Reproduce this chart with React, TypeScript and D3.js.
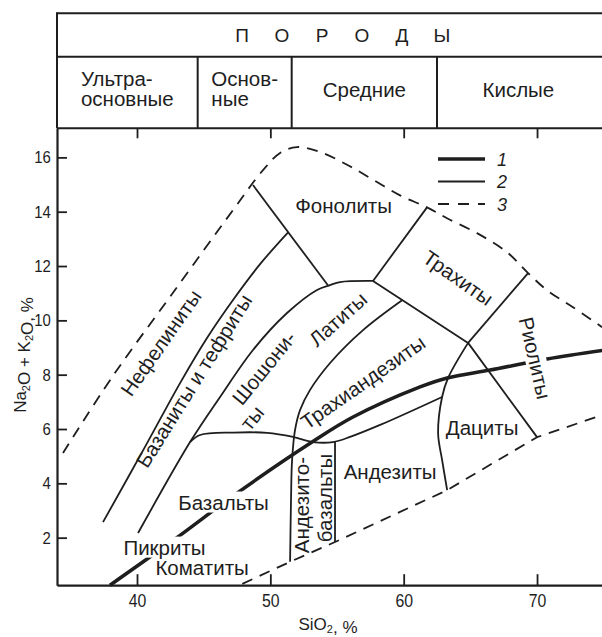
import React, { useEffect, useRef } from "react";
import * as d3 from "d3";

type Pt = [number, number];

// axes
const xTicks = [40, 50, 60, 70];
const yTicks = [2, 4, 6, 8, 10, 12, 14, 16];

// header table
const titleLetters = ["П", "О", "Р", "О", "Д", "Ы"];
const groupNames = [["Ультра-", "основные"], ["Основ-", "ные"], ["Средние"], ["Кислые"]];
const groupBounds = [34, 44.55, 51.6, 62.5, 74.7]; // SiO2, %

// [SiO2, Na2O+K2O]
// 1 - alkaline / subalkaline divide
const alkaliLine: Pt[] = [
  [37.97, 0.25], [42.85, 1.95], [47.5, 3.64], [53.13, 5.52], [56.2, 6.44],
  [61.23, 7.55], [63.26, 7.88], [66.48, 8.17], [70.76, 8.58], [75, 8.9],
];

// 2 - field boundaries
const nephLine: Pt[] = [
  [37.45, 2.57], [40.6, 5.34], [43.23, 7.69], [45.25, 9.35], [47.2, 10.75],
  [49.23, 12.07], [51.33, 13.24],
];
const basaniteLine: Pt[] = [
  [40.08, 2.17], [43.98, 5.52], [46.23, 7.18], [48.7, 8.91], [51.25, 10.27],
  [53.5, 11.12], [54.48, 11.3], [55.23, 11.41], [57.7, 11.45],
];
const phonoLeft: Pt[] = [[48.7, 14.98], [54.33, 11.28]];
const phonoRight: Pt[] = [[57.7, 11.45], [61.75, 14.16]];
const trachyteBase: Pt[] = [[57.7, 11.45], [64.83, 9.17], [70.0, 5.7]];
const rhyoliteLine: Pt[] = [[64.83, 9.17], [69.33, 11.74]];
const latiteLine: Pt[] = [
  [59.88, 10.74], [56.95, 9.64], [54.48, 8.43], [52.98, 7.44], [52.23, 6.7],
  [51.85, 5.96], [51.63, 4.86], [51.55, 3.39], [51.48, 1.11],
];
const basaltTop: Pt[] = [
  [43.98, 5.52], [44.73, 5.78], [47.2, 5.87], [49.75, 5.86], [51.7, 5.71],
  [53.2, 5.52], [54.7, 5.52], [55.98, 5.71], [58.23, 6.15], [62.88, 7.18],
];
const daciteLine: Pt[] = [
  [64.83, 9.17], [63.33, 7.88], [62.88, 7.18], [62.58, 5.85], [62.88, 4.86], [63.26, 3.75],
];
const andesiteLine: Pt[] = [[54.85, 5.52], [54.85, 1.84]];

// 3 - limits of the field
const upperLimit: Pt[] = [
  [34.45, 5.12], [38.13, 7.91], [42.63, 10.97], [47.2, 14.06], [49.45, 15.53],
  [50.73, 16.16], [52.0, 16.38], [53.73, 16.2], [55.75, 15.73], [57.7, 15.18],
  [59.73, 14.6], [61.75, 14.16], [63.25, 13.76], [65.5, 13.21], [67.75, 12.51],
  [69.33, 11.74], [70.75, 11.11], [72.7, 10.48], [74.88, 9.75],
];
const lowerLimit: Pt[] = [
  [47.9, 0.3], [51.48, 1.11], [54.85, 1.84], [63.26, 3.75], [70.0, 5.7], [74.5, 6.45],
];

const fieldLabels = [
  { text: "Нефелиниты", at: [41.8, 9.17], rot: -55 },
  { text: "Базаниты и тефриты", at: [44.28, 7.77], rot: -58 },
  { text: "Шошони-", at: [49.53, 8.25], rot: -51 },
  { text: "ты", at: [48.63, 6.41], rot: -51 },
  { text: "Латиты", at: [55.08, 10.04], rot: -42 },
  { text: "Трахиандезиты", at: [56.95, 7.72], rot: -35 },
  { text: "Трахиты", at: [64.08, 11.56], rot: 35 },
  { text: "Риолиты", at: [69.85, 8.61], rot: 77, knock: true },
  { text: "Фонолиты", at: [55.49, 14.23], rot: 0 },
  { text: "Дациты", at: [65.88, 6.06], rot: 0 },
  { text: "Андезиты", at: [58.98, 4.44], rot: 0 },
  { text: "Андезито-", at: [52.38, 3.2], rot: -90 },
  { text: "базальты", at: [54.1, 3.46], rot: -90 },
  { text: "Базальты", at: [46.49, 3.3], rot: 0, knock: true },
  { text: "Пикриты", at: [42.06, 1.64], rot: 0, knock: true },
  { text: "Коматиты", at: [44.88, 0.9], rot: 0 },
];

const legendItems = ["1", "2", "3"];

const INK = "#1e1e1e";
const FONT = "'Liberation Sans', Arial, sans-serif";

export default function App() {
  const ref = useRef<SVGSVGElement | null>(null);

  useEffect(() => {
    if (!ref.current) return;
    const svg = d3.select(ref.current);
    svg.selectAll("*").remove();

    const x = d3.scaleLinear().domain([34, 75]).range([57, 603.7]);
    const y = d3.scaleLinear().domain([0.25, 17.07]).range([585.2, 128.3]);

    const tTop = 13.3;
    const tRow = 56.7;
    const tBot = y(17.07);
    const left = x(34);
    const right = 602;

    // ---- header table
    const table = svg.append("g").attr("stroke", INK).attr("stroke-width", 2);
    [tTop, tRow, tBot].forEach((ty) =>
      table.append("line").attr("x1", left).attr("x2", right).attr("y1", ty).attr("y2", ty)
    );
    table.append("line").attr("x1", left).attr("x2", left).attr("y1", tTop - 1).attr("y2", tBot);
    groupBounds.slice(1, -1).forEach((b) =>
      table.append("line").attr("x1", x(b)).attr("x2", x(b)).attr("y1", tRow).attr("y2", tBot)
    );

    const titleG = svg.append("g").attr("font-family", FONT).attr("font-size", 19).attr("fill", INK)
      .attr("text-anchor", "middle");
    titleLetters.forEach((ch, i) => {
      titleG.append("text").attr("x", 342 + (i - 2.5) * 40).attr("y", 41.5).text(ch);
    });

    const grpG = svg.append("g").attr("font-family", FONT).attr("font-size", 20.5).attr("fill", INK);
    groupNames.forEach((lines, i) => {
      const cx = (x(groupBounds[i]) + x(groupBounds[i + 1])) / 2;
      const t = grpG.append("text").attr("y", lines.length === 2 ? 85.7 : 97);
      const spans = lines.map((ln, j) => t.append("tspan").attr("dy", j === 0 ? 0 : 20.3).text(ln));
      const wMax = d3.max(spans, (s) => (s.node() as SVGTSpanElement).getComputedTextLength()) || 0;
      spans.forEach((s) => s.attr("x", cx - wMax / 2));
    });

    // ---- axes
    const axG = svg.append("g");
    const yAxis = axG.append("g").attr("transform", `translate(${left},0)`)
      .call(d3.axisLeft(y).tickValues(yTicks).tickSizeInner(-10).tickSizeOuter(0).tickPadding(7));
    const xAxis = axG.append("g").attr("transform", `translate(0,${y(0.25)})`)
      .call(d3.axisBottom(x).tickValues(xTicks).tickSizeInner(-11).tickSizeOuter(0).tickPadding(9));
    axG.append("g").attr("transform", `translate(0,${tBot})`)
      .call(d3.axisTop(x).tickValues(xTicks).tickSizeInner(-10).tickSizeOuter(0).tickFormat(() => ""))
      .call((g) => g.select(".domain").remove());
    axG.selectAll("path.domain").attr("stroke", INK).attr("stroke-width", 2.2);
    axG.selectAll(".tick line").attr("stroke", INK).attr("stroke-width", 1.8);
    yAxis.attr("font-family", FONT).attr("font-size", 17);
    xAxis.attr("font-family", FONT).attr("font-size", 18);
    // the printed digits are condensed
    [yAxis, xAxis].forEach((a) =>
      a.selectAll("text").attr("fill", INK).attr("transform", "scale(0.88,1)")
    );

    const sub = (t: d3.Selection<SVGTextElement, unknown, null, undefined>, parts: [string, boolean][]) => {
      parts.forEach(([s, isSub]) => {
        t.append("tspan").attr("font-size", isSub ? 11 : 17).attr("dy", isSub ? 3.5 : 0).text(s);
        if (isSub) t.append("tspan").attr("dy", -3.5).text("");
      });
    };
    const yTitle = svg.append("text").attr("font-family", FONT).attr("fill", INK).attr("text-anchor", "middle")
      .attr("transform", `translate(26,355) rotate(-90)`);
    sub(yTitle, [["Na", false], ["2", true], ["O + K", false], ["2", true], ["O, %", false]]);
    const xTitle = svg.append("text").attr("font-family", FONT).attr("fill", INK).attr("text-anchor", "middle")
      .attr("x", 328).attr("y", 629.5);
    sub(xTitle, [["SiO", false], ["2", true], [", %", false]]);

    // ---- boundaries
    const smooth = d3.line<Pt>().x((d) => x(d[0])).y((d) => y(d[1])).curve(d3.curveCatmullRom.alpha(0.5));
    const straight = d3.line<Pt>().x((d) => x(d[0])).y((d) => y(d[1]));
    const plot = svg.append("g").attr("fill", "none").attr("stroke", INK).attr("stroke-linejoin", "round");

    const thin: [Pt[], boolean][] = [
      [nephLine, true], [basaniteLine, true], [phonoLeft, false], [phonoRight, false],
      [trachyteBase, false], [rhyoliteLine, false], [latiteLine, true], [basaltTop, true],
      [daciteLine, true], [andesiteLine, false],
    ];
    thin.forEach(([pts, curved]) =>
      plot.append("path").attr("d", (curved ? smooth : straight)(pts)).attr("stroke-width", 1.8)
    );
    plot.append("path").attr("d", smooth(upperLimit)).attr("stroke-width", 1.8).attr("stroke-dasharray", "11,8");
    plot.append("path").attr("d", straight(lowerLimit)).attr("stroke-width", 1.8).attr("stroke-dasharray", "11,8");
    plot.append("path").attr("d", smooth(alkaliLine)).attr("stroke-width", 3.5);

    // ---- field names
    const lab = svg.append("g").attr("font-family", FONT).attr("font-size", 20.5).attr("fill", INK);
    fieldLabels.forEach((l) => {
      const g = lab.append("g")
        .attr("transform", `translate(${x(l.at[0])},${y(l.at[1])}) rotate(${l.rot})`);
      const t = g.append("text").attr("text-anchor", "middle").attr("dy", "0.35em").text(l.text);
      if (l.knock) {
        const b = (t.node() as SVGTextElement).getBBox();
        g.insert("rect", "text").attr("x", b.x - 3).attr("y", b.y + 1).attr("width", b.width + 6)
          .attr("height", b.height - 2).attr("fill", "#fff");
      }
    });

    // ---- legend
    const leg = svg.append("g").attr("transform", "translate(438,159)");
    legendItems.forEach((s, i) => {
      const ly = i * 22.5;
      const ln = leg.append("line").attr("x1", 0).attr("x2", 47).attr("y1", ly).attr("y2", ly)
        .attr("stroke", INK).attr("stroke-width", i === 0 ? 3.5 : 1.8);
      if (i === 2) ln.attr("stroke-dasharray", "11,9");
      leg.append("text").attr("x", 59).attr("y", ly + 6.5).attr("font-family", FONT).attr("font-size", 18)
        .attr("font-style", "italic").attr("fill", INK).text(s);
    });
  }, []);

  return (
    <svg
      ref={ref}
      width={602}
      height={637}
      style={{ position: "absolute", left: 0, top: 0, background: "#fff", display: "block" }}
    />
  );
}
